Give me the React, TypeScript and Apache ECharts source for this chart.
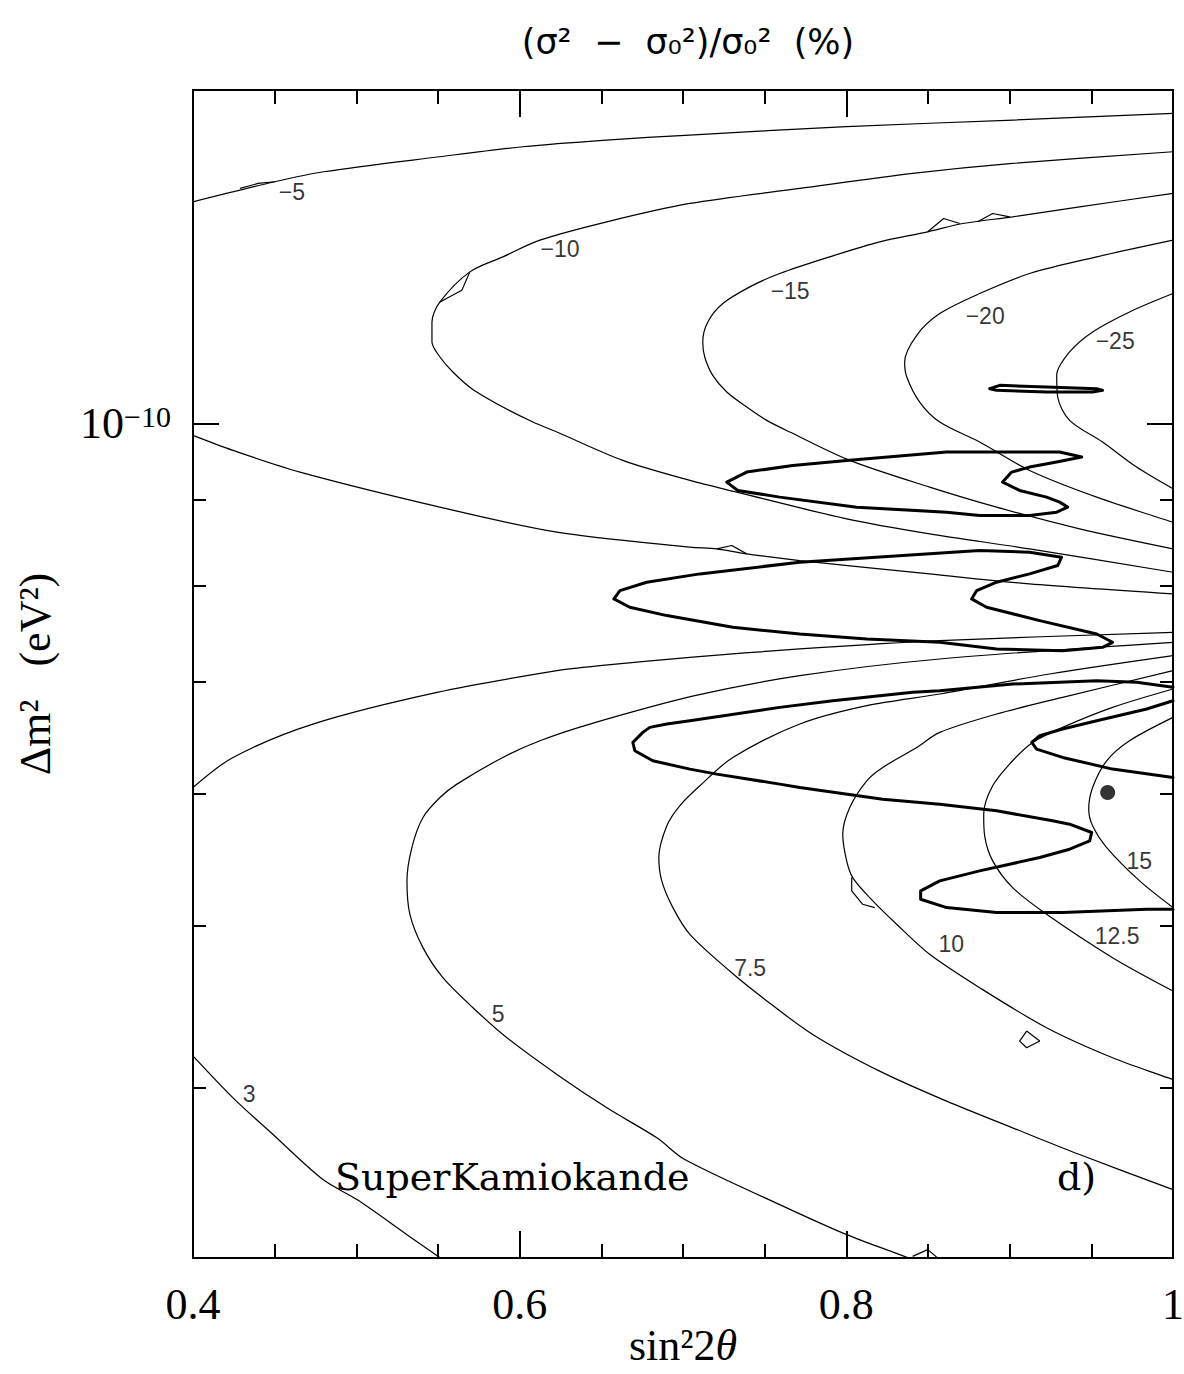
import React, { useEffect, useRef } from "react";
import * as echarts from "echarts";

type Pt = [number, number];

// Points are [sin²2θ, log10(Δm² / eV²)].

// Upper (negative) contours of (σ² − σ0²)/σ0² in %
const levelM5Upper: Pt[] = [[0.4, -9.867], [0.45, -9.855], [0.48, -9.849], [0.551, -9.84], [0.602, -9.834], [0.653, -9.83], [0.704, -9.827], [0.8, -9.822], [0.902, -9.818], [1.0, -9.814]];
const levelM5Lower: Pt[] = [[0.4, -10.007], [0.4245, -10.016], [0.4655, -10.029], [0.5512, -10.05], [0.6228, -10.065], [0.7042, -10.074], [0.7207, -10.075], [0.739, -10.078], [0.7715, -10.082], [0.851, -10.09], [0.9122, -10.096], [1.0, -10.102]];
const levelM10: Pt[] = [[1.0, -9.837], [0.9018, -9.844], [0.8406, -9.85], [0.7715, -9.859], [0.7042, -9.868], [0.6534, -9.879], [0.6124, -9.89], [0.5897, -9.9], [0.5695, -9.909], [0.5512, -9.927], [0.5463, -9.939], [0.5463, -9.951], [0.5512, -9.96], [0.5591, -9.969], [0.5707, -9.979], [0.5897, -9.99], [0.6081, -9.999], [0.6228, -10.005], [0.6632, -10.022], [0.7042, -10.034], [0.7329, -10.041], [0.8002, -10.057], [0.851, -10.066], [0.9122, -10.075], [1.0, -10.089]];
const levelM15: Pt[] = [[1.0, -9.862], [0.9428, -9.87], [0.9018, -9.876], [0.8712, -9.88], [0.8498, -9.885], [0.8204, -9.891], [0.7898, -9.9], [0.7592, -9.91], [0.7409, -9.918], [0.7244, -9.928], [0.7152, -9.939], [0.7121, -9.951], [0.7133, -9.96], [0.7182, -9.971], [0.7268, -9.981], [0.739, -9.99], [0.7513, -9.998], [0.7654, -10.005], [0.8021, -10.022], [0.851, -10.038], [0.892, -10.05], [0.9428, -10.063], [1.0, -10.075]];
const levelM20: Pt[] = [[1.0, -9.89], [0.9533, -9.9], [0.9122, -9.91], [0.8816, -9.922], [0.8572, -9.934], [0.8431, -9.947], [0.8357, -9.963], [0.837, -9.972], [0.8449, -9.987], [0.8572, -9.999], [0.8816, -10.011], [0.9122, -10.028], [0.9533, -10.044], [1.0, -10.059]];
const levelM25: Pt[] = [[1.0, -9.922], [0.9734, -9.933], [0.9508, -9.945], [0.9367, -9.957], [0.9288, -9.971], [0.9294, -9.984], [0.9367, -9.998], [0.9569, -10.011], [0.9777, -10.026], [1.0, -10.039]];

// Lower (positive) contours
const level3Upper: Pt[] = [[0.4, -10.218], [0.4245, -10.2], [0.4734, -10.18], [0.5494, -10.161], [0.6228, -10.148], [0.6491, -10.145], [0.7042, -10.14], [0.7715, -10.135], [0.8572, -10.13], [1.0, -10.125]];
const level3Lower: Pt[] = [[0.3982, -10.377], [0.4245, -10.404], [0.449, -10.426], [0.4796, -10.453], [0.5004, -10.465], [0.531, -10.486], [0.553, -10.501], [0.5573, -10.504]];
const level5: Pt[] = [[1.0, -10.131], [0.8572, -10.141], [0.7715, -10.151], [0.7072, -10.163], [0.643, -10.18], [0.6124, -10.19], [0.5897, -10.2], [0.5616, -10.216], [0.5512, -10.224], [0.5408, -10.236], [0.534, -10.254], [0.531, -10.274], [0.5328, -10.294], [0.5408, -10.314], [0.553, -10.332], [0.5714, -10.35], [0.5922, -10.368], [0.6228, -10.39], [0.6534, -10.41], [0.684, -10.428], [0.7011, -10.441], [0.7592, -10.468], [0.8002, -10.486], [0.8406, -10.501], [0.8449, -10.504]];
const level7p5: Pt[] = [[1.0, -10.139], [0.9245, -10.15], [0.8572, -10.162], [0.8125, -10.169], [0.7715, -10.18], [0.7305, -10.2], [0.7103, -10.217], [0.698, -10.229], [0.6901, -10.241], [0.6852, -10.26], [0.687, -10.274], [0.6938, -10.29], [0.7042, -10.306], [0.7286, -10.328], [0.7488, -10.344], [0.7794, -10.366], [0.8204, -10.388], [0.8614, -10.406], [0.9018, -10.422], [0.9428, -10.438], [1.0, -10.459]];
const level10: Pt[] = [[1.0, -10.148], [0.9324, -10.164], [0.892, -10.174], [0.8572, -10.185], [0.8431, -10.194], [0.8223, -10.206], [0.8125, -10.214], [0.8021, -10.23], [0.7978, -10.246], [0.8002, -10.262], [0.8039, -10.272], [0.8143, -10.284], [0.8308, -10.3], [0.851, -10.318], [0.8816, -10.338], [0.9226, -10.362], [0.963, -10.38], [1.0, -10.393]];
const level12p5: Pt[] = [[1.0, -10.159], [0.963, -10.17], [0.9324, -10.182], [0.9141, -10.191], [0.9018, -10.202], [0.8896, -10.217], [0.8841, -10.234], [0.8847, -10.247], [0.8896, -10.262], [0.9018, -10.278], [0.9226, -10.294], [0.963, -10.32], [1.0, -10.34]];
const level15: Pt[] = [[1.0, -10.176], [0.9734, -10.19], [0.9594, -10.202], [0.9508, -10.218], [0.9484, -10.231], [0.9508, -10.241], [0.9594, -10.254], [0.9796, -10.274], [1.0, -10.29]];

// Small spurs left by the contouring grid
const spurs: Pt[][] = [
  [[0.4288, -9.859], [0.4398, -9.856], [0.45, -9.855]],
  [[0.7207, -10.075], [0.7299, -10.073], [0.739, -10.078]],
  [[0.5695, -9.909], [0.5646, -9.92], [0.5512, -9.927]],
  [[0.8498, -9.885], [0.8596, -9.877], [0.8694, -9.88]],
  [[0.8804, -9.879], [0.8896, -9.874], [0.9, -9.876]],
  [[0.8406, -10.499], [0.8498, -10.495], [0.8572, -10.501]],
  [[0.8033, -10.272], [0.8033, -10.28], [0.81, -10.288], [0.8174, -10.29]],
  [[0.9104, -10.364], [0.9184, -10.37], [0.9104, -10.374], [0.9061, -10.37], [0.9104, -10.364]],
];

// Allowed-region boundaries (heavy curves)
const regionA: Pt[] = [[0.8878, -9.979], [0.8939, -9.977], [0.9226, -9.978], [0.9533, -9.979], [0.9569, -9.98], [0.9508, -9.981], [0.9226, -9.981], [0.892, -9.98], [0.8878, -9.979]];
const regionB: Pt[] = [[0.7268, -10.035], [0.739, -10.029], [0.7672, -10.025], [0.8002, -10.022], [0.8614, -10.017], [0.8896, -10.017], [0.9306, -10.017], [0.9441, -10.02], [0.9288, -10.023], [0.9122, -10.026], [0.9012, -10.029], [0.8957, -10.035], [0.9061, -10.04], [0.9226, -10.044], [0.9306, -10.047], [0.9355, -10.05], [0.9288, -10.053], [0.9122, -10.055], [0.8816, -10.055], [0.8614, -10.053], [0.8064, -10.05], [0.7592, -10.044], [0.7335, -10.04], [0.7268, -10.035]];
const regionC: Pt[] = [[0.6577, -10.105], [0.6614, -10.1], [0.6778, -10.095], [0.7103, -10.09], [0.7715, -10.083], [0.851, -10.078], [0.8816, -10.076], [0.9122, -10.077], [0.9318, -10.08], [0.9294, -10.085], [0.9122, -10.09], [0.892, -10.095], [0.8798, -10.1], [0.8767, -10.105], [0.8859, -10.11], [0.9184, -10.118], [0.9533, -10.126], [0.963, -10.131], [0.9569, -10.134], [0.9324, -10.136], [0.892, -10.135], [0.8572, -10.131], [0.8125, -10.129], [0.7715, -10.126], [0.7305, -10.122], [0.6901, -10.115], [0.6674, -10.11], [0.6577, -10.105]];
const regionD: Pt[] = [[1.0, -10.158], [0.9777, -10.155], [0.9533, -10.154], [0.9018, -10.156], [0.8572, -10.16], [0.8406, -10.161], [0.7917, -10.166], [0.7592, -10.17], [0.7042, -10.178], [0.6901, -10.18], [0.6797, -10.182], [0.6754, -10.185], [0.6693, -10.191], [0.6705, -10.196], [0.6815, -10.202], [0.7042, -10.207], [0.7207, -10.21], [0.7592, -10.216], [0.7715, -10.218], [0.8223, -10.225], [0.8572, -10.228], [0.892, -10.232], [0.9263, -10.238], [0.9367, -10.24], [0.9502, -10.245], [0.949, -10.25], [0.9367, -10.255], [0.9184, -10.26], [0.8816, -10.268], [0.8572, -10.274], [0.8455, -10.28], [0.8455, -10.285], [0.8614, -10.29], [0.892, -10.293], [0.9324, -10.293], [0.9839, -10.291], [1.0, -10.291]];
const regionE: Pt[] = [[1.0, -10.166], [0.9839, -10.171], [0.9533, -10.178], [0.9324, -10.183], [0.9184, -10.187], [0.9135, -10.191], [0.9165, -10.195], [0.9324, -10.2], [0.963, -10.207], [1.0, -10.212]];

// Best-fit point
const bestFit: Pt = [0.96, -10.221];

// Contour level labels: [text, sin²2θ, log10 Δm²]
const levelLabels: [string, number, number][] = [
  ["\u22125", 0.4606, -9.861],
  ["\u221210", 0.6247, -9.8954],
  ["\u221215", 0.7656, -9.9207],
  ["\u221220", 0.885, -9.9357],
  ["\u221225", 0.9646, -9.9507],
  ["3", 0.4343, -10.402],
  ["5", 0.5868, -10.354],
  ["7.5", 0.7411, -10.326],
  ["10", 0.8642, -10.312],
  ["12.5", 0.9658, -10.307],
  ["15", 0.9793, -10.262],
];

// Axis ranges and ticks
const xRange: Pt = [0.4, 1.0];
const yRange: Pt = [-10.5, -9.8];
const yMinorMantissas = [4, 5, 6, 7, 8, 9];
const yMinorTicks = yMinorMantissas.map((m) => Math.log10(m) - 11);
const yMajorTicks = [-10];

const SERIF = "'Liberation Serif', 'DejaVu Serif', serif";
const WIDE_SERIF = "'DejaVu Serif', serif";
const SANS = "'Liberation Sans', 'DejaVu Sans', sans-serif";

export default function App() {
  const ref = useRef<HTMLDivElement>(null);

  useEffect(() => {
    if (!ref.current) return;
    const chart = echarts.init(ref.current, undefined, { renderer: "svg" });

    const thin = (data: Pt[], smooth: number | boolean = 0.3) => ({
      type: "line",
      data,
      showSymbol: false,
      symbol: "none",
      smooth,
      silent: true,
      lineStyle: { color: "#000", width: 1.2 },
      z: 2,
    });
    const thick = (data: Pt[]) => ({
      type: "line",
      data,
      showSymbol: false,
      symbol: "none",
      smooth: false,
      silent: true,
      lineStyle: { color: "#000", width: 3, join: "round", cap: "round" },
      z: 3,
    });

    const axisLine = { show: true, onZero: false, lineStyle: { color: "#000", width: 2 } };
    const tickStyle = { color: "#000", width: 2 };

    const xBase = {
      type: "value",
      min: xRange[0],
      max: xRange[1],
      interval: 0.2,
      splitLine: { show: false },
      axisLine,
      axisTick: { show: true, inside: true, length: 27, lineStyle: tickStyle },
      minorTick: { show: true, splitNumber: 4, length: 14, lineStyle: tickStyle },
    };
    const yBase = {
      type: "value",
      min: yRange[0],
      max: yRange[1],
      splitLine: { show: false },
      axisLine,
    };

    chart.setOption({
      animation: false,
      backgroundColor: "#fff",
      grid: { left: 193, right: 11, top: 90, bottom: 116, containLabel: false, outerBoundsMode: "none" },
      xAxis: [
        {
          ...xBase,
          position: "bottom",
          axisLabel: {
            show: true,
            margin: 24,
            fontSize: 44,
            fontFamily: SERIF,
            color: "#000",
            formatter: (v: number) => (Math.abs(v - 1) < 1e-9 ? "1" : v.toFixed(1)),
          },
        },
        { ...xBase, position: "top", axisLabel: { show: false } },
      ],
      yAxis: [
        {
          ...yBase,
          position: "left",
          axisTick: { show: true, inside: true, length: 13, lineStyle: tickStyle, customValues: yMinorTicks },
          axisLabel: {
            show: true,
            customValues: yMajorTicks,
            margin: 22,
            formatter: () => "{b|10}{s|\u221210}",
            rich: {
              b: { fontSize: 44, fontFamily: SERIF, color: "#000", lineHeight: 44 },
              s: { fontSize: 30, fontFamily: SERIF, color: "#000", lineHeight: 28, verticalAlign: "top" },
            },
          },
        },
        {
          ...yBase,
          position: "left",
          axisTick: { show: true, inside: true, length: 26, lineStyle: tickStyle, customValues: yMajorTicks },
          axisLabel: { show: false },
        },
        {
          ...yBase,
          position: "right",
          axisTick: { show: true, inside: true, length: 13, lineStyle: tickStyle, customValues: yMinorTicks },
          axisLabel: { show: false },
        },
        {
          ...yBase,
          position: "right",
          axisTick: { show: true, inside: true, length: 26, lineStyle: tickStyle, customValues: yMajorTicks },
          axisLabel: { show: false },
        },
      ],
      series: [
        thin(levelM5Upper),
        thin(levelM5Lower),
        thin(levelM10),
        thin(levelM15),
        thin(levelM20),
        thin(levelM25),
        thin(level3Upper),
        thin(level3Lower),
        thin(level5),
        thin(level7p5),
        thin(level10),
        thin(level12p5),
        thin(level15),
        ...spurs.map((s) => thin(s, false)),
        thick(regionA),
        thick(regionB),
        thick(regionC),
        thick(regionD),
        thick(regionE),
        {
          type: "scatter",
          data: [bestFit],
          symbol: "circle",
          symbolSize: 15,
          itemStyle: { color: "#000" },
          silent: true,
          z: 4,
        },
        {
          type: "scatter",
          data: levelLabels.map(([t, x, y]) => ({ name: t, value: [x, y] })),
          symbolSize: 1,
          itemStyle: { color: "rgba(0,0,0,0)" },
          silent: true,
          z: 5,
          label: {
            show: true,
            position: "inside",
            formatter: "{b}",
            fontSize: 23,
            fontFamily: SANS,
            color: "#000",
          },
        },
      ],
      graphic: [
        {
          type: "text",
          x: 688,
          y: 42,
          style: {
            text: "(\u03c3\u00b2  \u2212  \u03c3\u2080\u00b2)/\u03c3\u2080\u00b2  (%)",
            font: "35px 'DejaVu Sans', sans-serif",
            fill: "#000",
            align: "center",
            verticalAlign: "middle",
          },
        },
        {
          type: "text",
          x: 35,
          y: 674,
          rotation: Math.PI / 2,
          style: {
            text: "\u0394m\u00b2   (eV\u00b2)",
            font: `44px ${SERIF}`,
            fill: "#000",
            align: "center",
            verticalAlign: "middle",
          },
        },
        {
          type: "text",
          x: 683,
          y: 1345,
          style: {
            text: "{r|sin\u00b22}{i|\u03b8}",
            rich: {
              r: { fontSize: 44, fontFamily: SERIF, fill: "#000" },
              i: { fontSize: 44, fontFamily: SERIF, fontStyle: "italic", fill: "#000" },
            },
            align: "center",
            verticalAlign: "middle",
          },
        },
        {
          type: "text",
          x: 335,
          y: 1177,
          style: {
            text: "SuperKamiokande",
            font: `38px ${WIDE_SERIF}`,
            fill: "#000",
            align: "left",
            verticalAlign: "middle",
          },
        },
        {
          type: "text",
          x: 1057,
          y: 1177,
          style: {
            text: "d)",
            font: `38px ${WIDE_SERIF}`,
            fill: "#000",
            align: "left",
            verticalAlign: "middle",
          },
        },
      ],
    });

    return () => chart.dispose();
  }, []);

  return (
    <div
      ref={ref}
      style={{ position: "absolute", left: 0, top: 0, width: 1184, height: 1374, background: "#fff" }}
    />
  );
}
